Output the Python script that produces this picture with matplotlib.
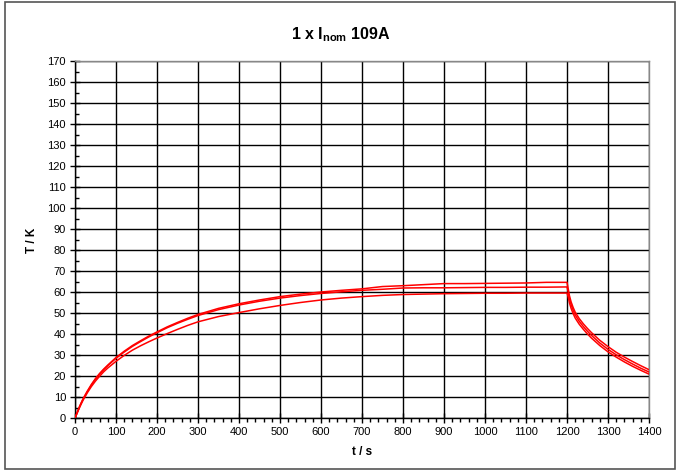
import matplotlib
matplotlib.use("Agg")
import matplotlib.pyplot as plt
from matplotlib.ticker import MultipleLocator
from matplotlib.patches import Rectangle

plt.rcParams['font.family'] = ['Liberation Sans', 'DejaVu Sans']
plt.rcParams['mathtext.fontset'] = 'custom'
plt.rcParams['mathtext.rm'] = 'Liberation Sans:bold'
plt.rcParams['mathtext.bf'] = 'Liberation Sans:bold'

# Heating phase: time in s, temperature rise in K for three sensors
t_heat = [0, 5, 10, 15, 20, 30, 40, 50, 60, 70, 80, 90, 100, 120, 140, 160, 180,
          200, 225, 250, 275, 300, 350, 400, 450, 500, 550, 600, 650, 700, 750,
          800, 850, 900, 950, 1000, 1050, 1100, 1150, 1195]
temp_a_heat = [0, 2.5, 5.0, 7.2, 9.3, 12.8, 16.0, 18.8, 21.2, 23.3, 25.2, 27.0, 28.8,
               31.8, 34.5, 36.8, 39.0, 41.0, 43.4, 45.5, 47.5, 49.3, 52.2, 54.4,
               56.2, 57.8, 59.0, 60.0, 60.8, 61.5, 62.6, 63.0, 63.5, 64.0, 64.0,
               64.1, 64.2, 64.3, 64.6, 64.6]
temp_b_heat = [0, 2.4, 4.8, 7.0, 9.0, 12.5, 15.7, 18.5, 20.9, 23.0, 24.9, 26.7, 28.4,
               31.4, 34.1, 36.4, 38.6, 40.6, 43.0, 45.1, 47.0, 48.8, 51.6, 53.8,
               55.6, 57.1, 58.3, 59.3, 60.1, 60.8, 61.3, 61.9, 62.0, 62.0, 62.1,
               62.2, 62.2, 62.3, 62.3, 62.4]
temp_c_heat = [0, 2.2, 4.5, 6.6, 8.6, 12.0, 15.0, 17.6, 19.9, 22.0, 23.8, 25.4, 27.0,
               29.8, 32.3, 34.4, 36.3, 38.1, 40.2, 42.2, 44.1, 45.8, 48.3, 50.2,
               52.0, 53.6, 55.0, 56.2, 57.1, 57.8, 58.4, 58.8, 59.0, 59.2, 59.3,
               59.4, 59.4, 59.5, 59.5, 59.5]

# Cooling phase after the current is switched off
t_cool = [1200, 1203, 1206, 1210, 1215, 1220, 1230, 1240, 1250, 1260, 1280, 1300,
          1320, 1340, 1360, 1380, 1400]
temp_a_cool = [64.6, 61.5, 58.2, 55.3, 52.6, 50.4, 47.3, 44.8, 42.6, 40.6, 37.0,
               34.0, 31.3, 29.0, 26.9, 24.9, 23.0]
temp_b_cool = [62.4, 60.0, 56.8, 54.0, 51.3, 49.1, 46.0, 43.5, 41.3, 39.3, 35.7,
               32.7, 30.1, 27.8, 25.7, 23.7, 21.9]
temp_c_cool = [59.5, 57.5, 54.8, 52.2, 49.7, 47.6, 44.6, 42.2, 40.0, 38.0, 34.5,
               31.5, 29.0, 26.7, 24.6, 22.7, 20.9]

x_ticks = list(range(0, 1401, 100))
y_ticks = list(range(0, 171, 10))

W, H = 676, 470
fig = plt.figure(figsize=(W / 100, H / 100), dpi=100)
ax = fig.add_axes([75 / W, 1 - 418 / H, (649 - 75) / W, (418 - 61) / H])

for th, yh, tc, yc in [(t_heat, temp_a_heat, t_cool, temp_a_cool),
                       (t_heat, temp_b_heat, t_cool, temp_b_cool),
                       (t_heat, temp_c_heat, t_cool, temp_c_cool)]:
    ax.plot(list(th) + list(tc), list(yh) + list(yc), color='#ff0000', lw=1.1,
            zorder=3)

ax.set_xlim(0, 1400)
ax.set_ylim(0, 170)
ax.set_xticks(x_ticks)
ax.set_yticks(y_ticks)
ax.xaxis.set_minor_locator(MultipleLocator(20))
ax.yaxis.set_minor_locator(MultipleLocator(5))
ax.grid(True, which='major', color='black', lw=1.0)
ax.set_axisbelow(True)

ax.tick_params(axis='both', which='major', direction='inout', length=7, width=1,
               labelsize=8, colors='black', pad=3)
ax.tick_params(axis='x', which='minor', direction='out', length=3, width=1)
ax.tick_params(axis='y', which='minor', direction='in', length=3, width=1)

for side in ['top', 'right']:
    ax.spines[side].set_color('#888888')
    ax.spines[side].set_linewidth(1)
for side in ['left', 'bottom']:
    ax.spines[side].set_color('black')
    ax.spines[side].set_linewidth(1)

fig.text(32 / W, 1 - 240 / H, 'T / K', rotation=90, ha='center', va='center',
         fontsize=8.5, fontweight='bold')
fig.text(362 / W, 1 - 452 / H, 't / s', ha='center', va='center',
         fontsize=8.5, fontweight='bold')
fig.text(341 / W, 1 - 35 / H, r'1 x I$_{\mathrm{nom}}$ 109A', ha='center',
         va='center', fontsize=11.5, fontweight='bold')

# Chart area border
fig.patches.append(Rectangle((5 / W, 1.5 / H), 669.5 / W, 467 / H,
                             transform=fig.transFigure, fill=False,
                             edgecolor='#555555', lw=1.2))

fig.savefig('out.png', dpi=100)
